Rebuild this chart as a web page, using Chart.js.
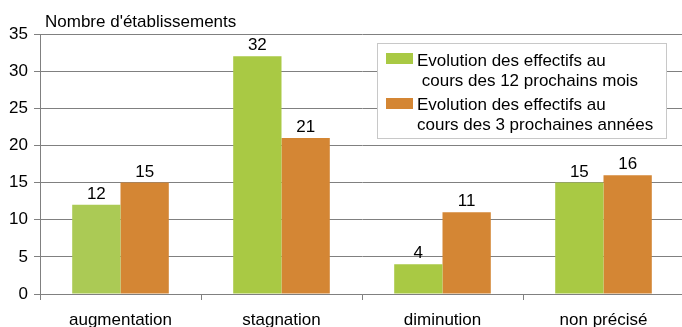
<!DOCTYPE html>
<html>
<head>
<meta charset="utf-8">
<script src="https://cdn.jsdelivr.net/npm/chart.js@4/dist/chart.umd.min.js"></script>
<style>
  html, body { margin: 0; padding: 0; overflow: hidden; background: #fff; }
  #wrap { width: 682px; height: 327px; overflow: hidden; }
  canvas { display: block; }
</style>
</head>
<body>
<div id="wrap"><canvas id="c" width="684" height="342"></canvas></div>
<script>
const categories = ['augmentation', 'stagnation', 'diminution', 'non précisé'];
const next12Months = [12, 32, 4, 15];
const next3Years = [15, 21, 11, 16];
const seriesLabels = [
  ['Evolution des effectifs au', ' cours des 12 prochains mois'],
  ['Evolution des effectifs au', 'cours des 3 prochaines années']
];
const yTitle = "Nombre d'établissements";

const FONT = '"Liberation Sans", Arial, sans-serif';
const FONT_SIZE = 17;
const GREEN = '#A9C944';
const GREEN_LIGHT = '#ABCA55';
const ORANGE = '#D48634';

// axis caption at top-left
const captionPlugin = {
  id: 'caption',
  afterDraw(chart) {
    const ctx = chart.ctx;
    ctx.save();
    ctx.font = FONT_SIZE + 'px ' + FONT;
    ctx.fillStyle = '#000';
    ctx.textAlign = 'left';
    ctx.textBaseline = 'alphabetic';
    ctx.fillText(yTitle, 45, 27);
    ctx.restore();
  }
};

// value above each bar
const valuePlugin = {
  id: 'values',
  afterDatasetsDraw(chart) {
    const ctx = chart.ctx;
    ctx.save();
    ctx.font = FONT_SIZE + 'px ' + FONT;
    ctx.fillStyle = '#000';
    ctx.textAlign = 'center';
    ctx.textBaseline = 'alphabetic';
    chart.data.datasets.forEach((ds, i) => {
      chart.getDatasetMeta(i).data.forEach((bar, j) => {
        ctx.fillText(String(ds.data[j]), bar.x, bar.y - 6);
      });
    });
    ctx.restore();
  }
};

// boxed legend with two-line entries
const boxLegendPlugin = {
  id: 'boxLegend',
  afterDraw(chart) {
    const ctx = chart.ctx;
    const x0 = 377.5, y0 = 43.5, w = 289, h = 95;
    ctx.save();
    ctx.fillStyle = '#fff';
    ctx.fillRect(x0, y0, w, h);
    ctx.strokeStyle = '#c8c8c8';
    ctx.lineWidth = 1;
    ctx.strokeRect(x0, y0, w, h);
    ctx.font = FONT_SIZE + 'px ' + FONT;
    ctx.textBaseline = 'alphabetic';
    const swatchTops = [53, 98];
    const baselines = [66, 110];
    chart.data.datasets.forEach((ds, i) => {
      ctx.fillStyle = ds.legendColor;
      ctx.fillRect(386, swatchTops[i], 27, 11);
      ctx.fillStyle = '#000';
      ds.label.forEach((line, k) => {
        ctx.fillText(line, 417, baselines[i] + k * 20);
      });
    });
    ctx.restore();
  }
};

new Chart(document.getElementById('c'), {
  type: 'bar',
  data: {
    labels: categories,
    datasets: [
      {
        label: seriesLabels[0],
        data: next12Months,
        backgroundColor: [GREEN_LIGHT, GREEN, GREEN, GREEN],
        legendColor: GREEN,
        categoryPercentage: 0.6,
        barPercentage: 1.0
      },
      {
        label: seriesLabels[1],
        data: next3Years,
        backgroundColor: ORANGE,
        legendColor: ORANGE,
        categoryPercentage: 0.6,
        barPercentage: 1.0
      }
    ]
  },
  options: {
    responsive: false,
    animation: false,
    layout: { padding: { top: 34, right: 0, left: 0, bottom: 0 } },
    plugins: {
      legend: { display: false },
      tooltip: { enabled: false }
    },
    scales: {
      x: {
        grid: {
          offset: true,
          drawOnChartArea: false,
          drawTicks: true,
          tickLength: 6,
          color: '#808080'
        },
        border: { color: '#808080', width: 1 },
        ticks: {
          color: '#000',
          font: { family: FONT, size: FONT_SIZE },
          padding: 10,
          maxRotation: 0
        },
        afterFit(scale) { scale.height = 48; }
      },
      y: {
        min: 0,
        max: 35,
        grid: {
          color: '#808080',
          tickLength: 6,
          drawTicks: true
        },
        border: { color: '#808080', width: 1 },
        ticks: {
          stepSize: 5,
          color: '#000',
          font: { family: FONT, size: FONT_SIZE },
          padding: 6
        },
        afterFit(scale) { scale.width = 40; }
      }
    }
  },
  plugins: [captionPlugin, valuePlugin, boxLegendPlugin]
});
</script>
</body>
</html>
